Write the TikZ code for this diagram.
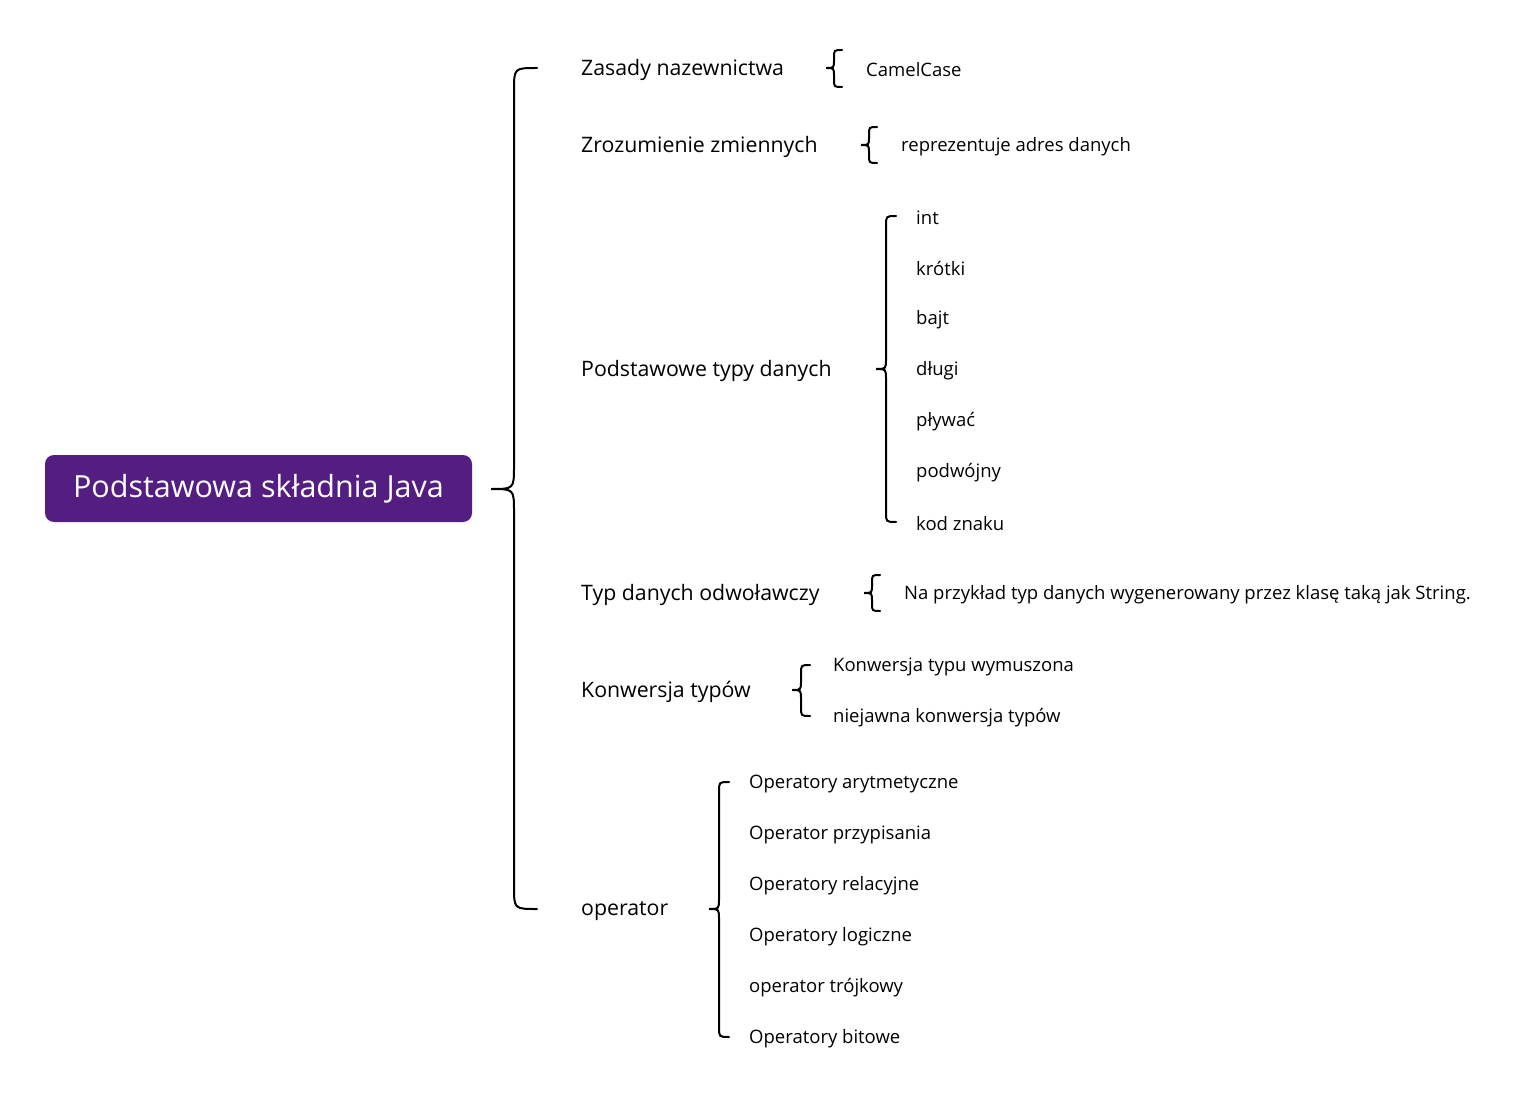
\documentclass[tikz,border=0pt]{standalone}
\usepackage{fontspec}
\setmainfont{Open Sans}
\definecolor{rootc}{HTML}{531D82}
\newcommand{\brc}[5]{% x, top, mid, bot, r
  \draw[brace] (#1+#5,#2) .. controls (#1,#2) .. (#1,#2+#5) -- (#1,#3-#5) .. controls (#1,#3) .. (#1-#5,#3)
   .. controls (#1,#3) .. (#1,#3+#5) -- (#1,#4-#5) .. controls (#1,#4) .. (#1+#5,#4);}
\begin{document}
\begin{tikzpicture}[x=1pt,y=-1pt,
  brace/.style={line width=2pt,black,line cap=round},
  l1/.style={anchor=west,font=\fontsize{21.3}{24}\selectfont,inner sep=0pt,yshift=-2pt},
  l2/.style={anchor=west,font=\fontsize{18.5}{21}\selectfont,inner sep=0pt,yshift=-2pt}]
\useasboundingbox (0,0) rectangle (1537,1115);
\node[fill=rootc,rounded corners=9pt,minimum width=427pt,minimum height=67pt,text=white,font=\fontsize{30.5}{34}\selectfont] (root) at (258.5,488.5) {Podstawowa składnia Java};
\brc{514}{68}{489}{909}{23}
\node[l1] (a) at (581,68) {Zasady nazewnictwa};
\node[l1] (b) at (581,145) {Zrozumienie zmiennych};
\node[l1] (c) at (581,369) {Podstawowe typy danych};
\node[l1] (d) at (581,593) {Typ danych odwoławczy};
\node[l1] (e) at (581,690) {Konwersja typów};
\node[l1] (f) at (581,909) {operator};
\brc{834}{50}{68}{87}{8}
\node[l2] (a1) at (866,68) {CamelCase};
\brc{869}{127}{145}{163}{8}
\node[l2] (b1) at (901,145) {reprezentuje adres danych};
\brc{886}{216}{369}{522}{10}
\foreach \t [count=\i] in {int,krótki,bajt,długi,pływać,podwójny,kod znaku}
  \node[l2] (c\i) at (916,216+51*\i-51) {\t};
\brc{872}{575}{593}{611}{8}
\node[l2] (d1) at (904,593) {Na przykład typ danych wygenerowany przez klasę taką jak String.};
\brc{801}{665}{690}{716}{9}
\node[l2] (e1) at (833,665) {Konwersja typu wymuszona};
\node[l2] (e2) at (833,716) {niejawna konwersja typów};
\brc{719}{782}{909}{1037}{10}
\foreach \t [count=\i] in {Operatory arytmetyczne,Operator przypisania,Operatory relacyjne,Operatory logiczne,operator trójkowy,Operatory bitowe}
  \node[l2] (f\i) at (749,782+51*\i-51) {\t};
\end{tikzpicture}
\end{document}
